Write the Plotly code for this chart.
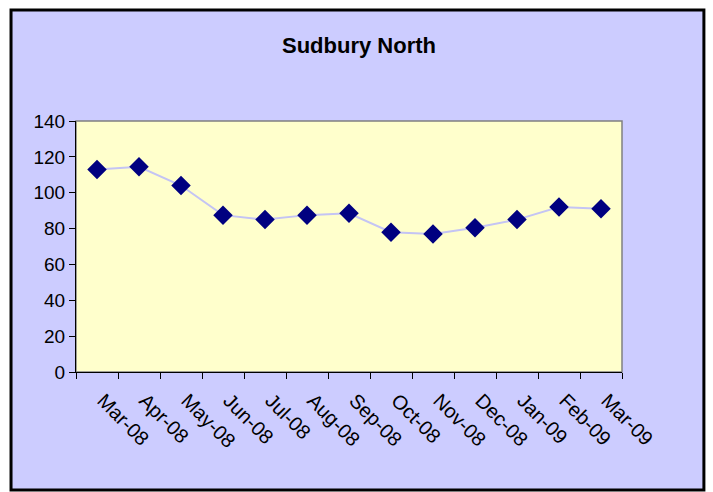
import plotly.graph_objects as go

# monthly values, Sudbury North
months = ["Mar-08", "Apr-08", "May-08", "Jun-08", "Jul-08", "Aug-08", "Sep-08",
          "Oct-08", "Nov-08", "Dec-08", "Jan-09", "Feb-09", "Mar-09"]
values = [113, 114.5, 104, 87.5, 85, 87.5, 88.5, 78, 77, 80.5, 85, 92, 91]
y_ticks = [0, 20, 40, 60, 80, 100, 120, 140]

fig = go.Figure(go.Scatter(
    x=months, y=values, mode="lines+markers",
    line=dict(color="#C4C4F4", width=2),
    marker=dict(symbol="diamond", size=15, color="#000080"),
))

fig.update_layout(
    width=713, height=492,
    margin=dict(l=76, r=91, t=121, b=120),
    paper_bgcolor="white",
    plot_bgcolor="#FFFFCC",
    showlegend=False,
    title=dict(text="<b>Sudbury North</b>", xref="container", x=0.5035,
               yref="container", y=1 - 45 / 492, xanchor="center", yanchor="middle",
               font=dict(family="Liberation Sans", size=22, color="black")),
    shapes=[
        # outer chart frame
        dict(type="rect", xref="paper", yref="paper", layer="below",
             x0=-0.119, x1=1.150, y0=-0.470, y1=1.442,
             fillcolor="#CCCCFF", line=dict(color="black", width=3)),
        # plot area
        dict(type="rect", xref="paper", yref="paper", layer="below",
             x0=0, x1=1, y0=0, y1=1,
             fillcolor="#FFFFCC", line=dict(color="#808080", width=1.5)),
    ],
)

fig.update_xaxes(
    type="category", range=[-0.5, len(months) - 0.5],
    tickson="boundaries", ticks="outside", ticklen=6,
    tickcolor="black", showline=True, linecolor="black", linewidth=1,
    showgrid=False, tickangle=45, ticklabelshift=6, ticklabelstandoff=8,
    tickfont=dict(family="Liberation Sans", size=20, color="black"),
)
fig.update_yaxes(
    range=[0, 140], tickvals=y_ticks, ticks="outside", ticklen=6,
    tickcolor="black", showline=True, linecolor="black", linewidth=1,
    showgrid=False, zeroline=False,
    tickfont=dict(family="Liberation Sans", size=19, color="black"),
)

# drop the default 8px page margin so the figure sits at the window corner
fig.write_html("out.html", config={"displayModeBar": False},
               post_script="document.body.style.margin='0';")
